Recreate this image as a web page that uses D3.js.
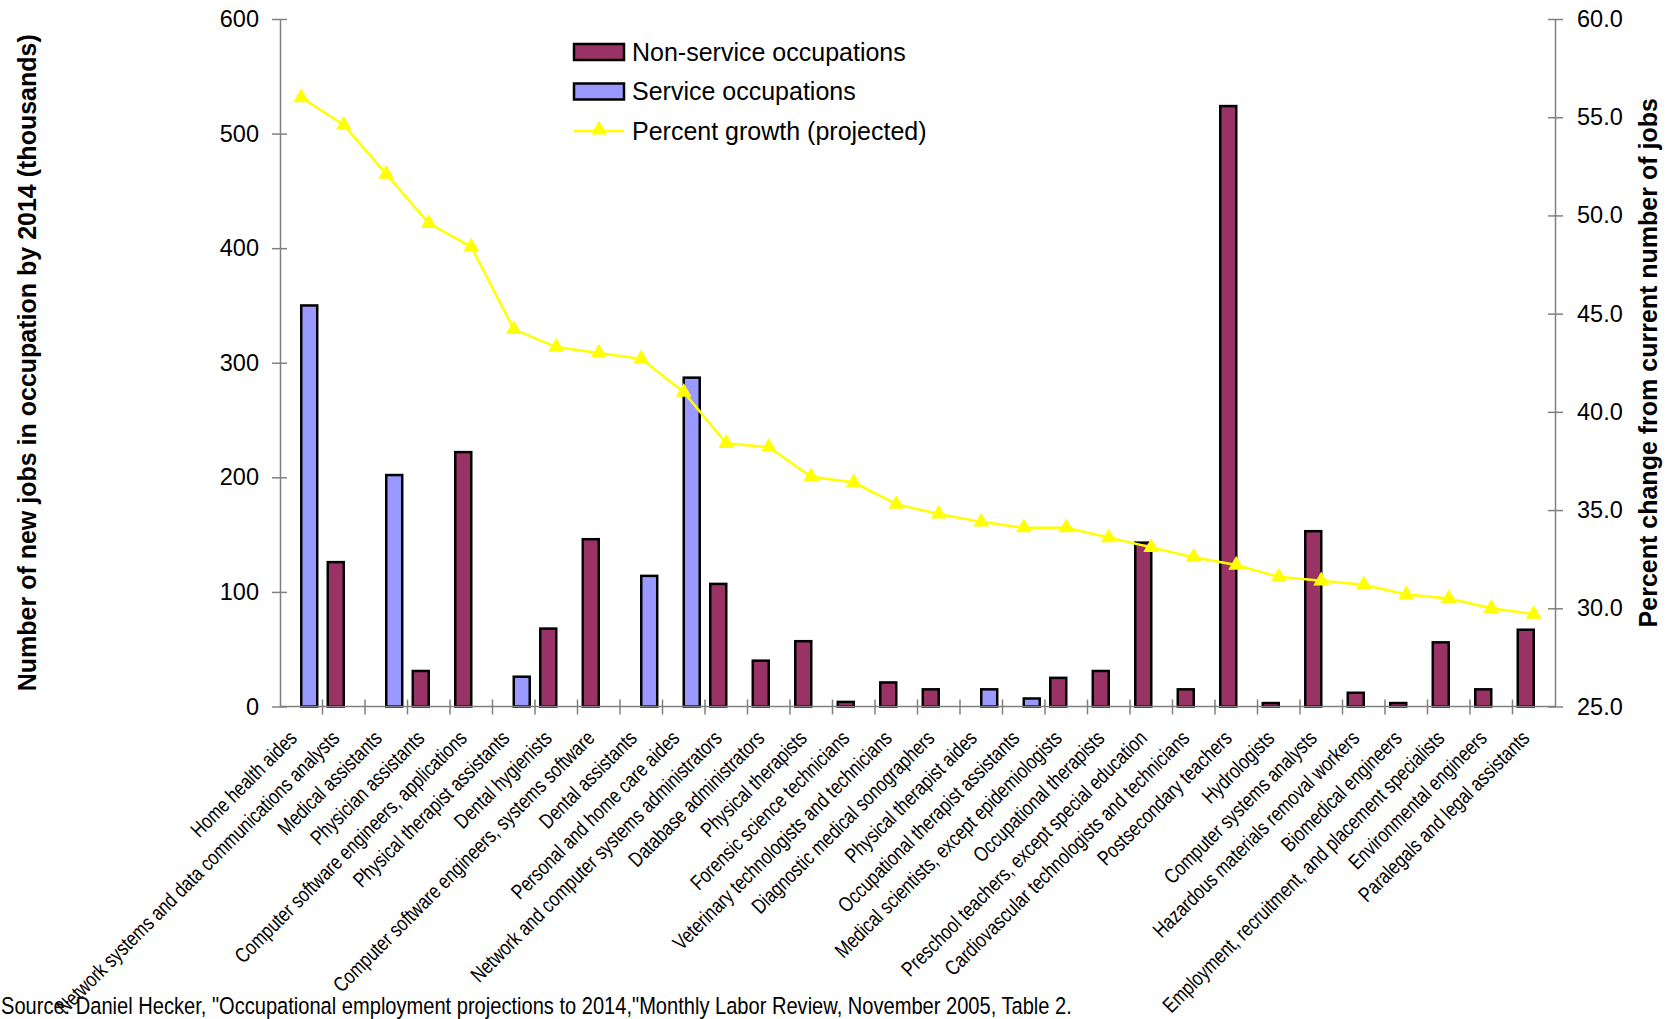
<!DOCTYPE html>
<html>
<head>
<meta charset="utf-8">
<script src="https://cdn.jsdelivr.net/npm/d3@7"></script>
<style>
body { margin: 0; background: #fff; }
text { font-family: "Liberation Sans", Arial, sans-serif; fill: #000; }
</style>
</head>
<body>
<div id="chart"></div>
<script>
// ---- data ----
var occupations = [
    "Home health aides",
    "Network systems and data communications analysts",
    "Medical assistants",
    "Physician assistants",
    "Computer software engineers, applications",
    "Physical therapist assistants",
    "Dental hygienists",
    "Computer software engineers, systems software",
    "Dental assistants",
    "Personal and home care aides",
    "Network and computer systems administrators",
    "Database administrators",
    "Physical therapists",
    "Forensic science technicians",
    "Veterinary technologists and technicians",
    "Diagnostic medical sonographers",
    "Physical therapist aides",
    "Occupational therapist assistants",
    "Medical scientists, except epidemiologists",
    "Occupational therapists",
    "Preschool teachers, except special education",
    "Cardiovascular technologists and technicians",
    "Postsecondary teachers",
    "Hydrologists",
    "Computer systems analysts",
    "Hazardous materials removal workers",
    "Biomedical engineers",
    "Employment, recruitment, and placement  specialists",
    "Environmental engineers",
    "Paralegals and legal assistants"
];

// new jobs by 2014, thousands (null = not in that group)
var nonServiceJobs = [null, 126, null, 31, 222, null, 68, 146, null, null,
    107, 40, 57, 4, 21, 15, null, null, 25, 31,
    143, 15, 524, 3, 153, 12, 3, 56, 15, 67];
var serviceJobs = [350, null, 202, null, null, 26, null, null, 114, 287,
    null, null, null, null, null, null, 15, 7, null, null,
    null, null, null, null, null, null, null, null, null, null];

// percent change from current number of jobs
var percentGrowth = [56.0, 54.6, 52.1, 49.6, 48.4, 44.2, 43.3, 43.0, 42.7, 41.0,
    38.4, 38.2, 36.7, 36.4, 35.3, 34.8, 34.4, 34.1, 34.1, 33.6,
    33.1, 32.6, 32.2, 31.6, 31.4, 31.2, 30.7, 30.5, 30.0, 29.7];

var jobTicks = [0, 100, 200, 300, 400, 500, 600];
var growthTicks = [25, 30, 35, 40, 45, 50, 55, 60];
var seriesNames = ["Non-service occupations", "Service occupations", "Percent growth (projected)"];
var seriesKeys = ["non", "svc"];
var sourceNote = "Source: Daniel Hecker, \"Occupational employment projections to 2014,\"Monthly Labor Review, November 2005, Table 2.";

// ---- layout ----
var W = 1673, H = 1019;
var margin = { top: 19, right: 118, bottom: 312.5, left: 280 },
    width = W - margin.left - margin.right,
    height = H - margin.top - margin.bottom;

var colors = { non: "#993366", svc: "#9999FF", line: "#FFFF00" };
var narrow = 0.8; // squeeze Liberation Sans to Arial Narrow width

var svg = d3.select("#chart").append("svg")
    .attr("width", W)
    .attr("height", H);

var g = svg.append("g")
    .attr("transform", "translate(" + margin.left + "," + margin.top + ")");

var x = d3.scaleBand()
    .domain(occupations)
    .range([0, width])
    .padding(0);

var x1 = d3.scaleBand()
    .domain(seriesKeys)
    .range([0, x.bandwidth()])
    .paddingInner(0)
    .paddingOuter(0.33);

var yJobs = d3.scaleLinear().domain([0, 600]).range([height, 0]);
var yPct = d3.scaleLinear().domain([25, 60]).range([height, 0]);

// bars
var bars = [];
occupations.forEach(function (name, i) {
    if (nonServiceJobs[i] != null) bars.push({ name: name, key: "non", value: nonServiceJobs[i] });
    if (serviceJobs[i] != null) bars.push({ name: name, key: "svc", value: serviceJobs[i] });
});

g.selectAll("rect.bar")
    .data(bars)
    .enter().append("rect")
    .attr("class", "bar")
    .attr("x", function (d) { return x(d.name) + x1(d.key); })
    .attr("y", function (d) { return yJobs(d.value); })
    .attr("width", x1.bandwidth())
    .attr("height", function (d) { return height - yJobs(d.value); })
    .attr("fill", function (d) { return colors[d.key]; })
    .attr("stroke", "#000")
    .attr("stroke-width", 2.5);

// axes
var axisColor = "#808080";

var leftAxis = g.append("g")
    .call(d3.axisLeft(yJobs).tickValues(jobTicks).tickSizeOuter(0).tickPadding(15));

var rightAxis = g.append("g")
    .attr("transform", "translate(" + width + ",0)")
    .call(d3.axisRight(yPct).tickValues(growthTicks).tickFormat(d3.format(".1f")).tickSizeOuter(0).tickPadding(16));

leftAxis.selectAll(".tick line").attr("x1", 7).attr("x2", -8);
rightAxis.selectAll(".tick line").attr("x1", -7).attr("x2", 8);

[leftAxis, rightAxis].forEach(function (a) {
    a.selectAll(".domain, .tick line").attr("stroke", axisColor).attr("stroke-width", 1.5);
    a.selectAll(".tick text")
        .style("font-size", "23.5px")
        .style("font-family", "'Liberation Sans', Arial, sans-serif")
        .attr("fill", "#000");
});

// x axis: line plus ticks at category boundaries
var bottomAxis = g.append("g")
    .attr("transform", "translate(0," + height + ")");

bottomAxis.append("line")
    .attr("x1", 0).attr("x2", width)
    .attr("stroke", axisColor).attr("stroke-width", 1.5);

bottomAxis.selectAll("line.tick")
    .data(occupations.slice(1))
    .enter().append("line")
    .attr("class", "tick")
    .attr("x1", function (d) { return x(d); })
    .attr("x2", function (d) { return x(d); })
    .attr("y1", -7).attr("y2", 8)
    .attr("stroke", axisColor).attr("stroke-width", 1.5);

bottomAxis.selectAll("text.label")
    .data(occupations)
    .enter().append("text")
    .attr("class", "label")
    .attr("transform", function (d) {
        return "translate(" + (x(d) + x.bandwidth() / 2 - 3) + ",33) rotate(-45) scale(" + narrow + ",1)";
    })
    .attr("text-anchor", "end")
    .style("font-size", "21px")
    .text(function (d) { return d; });

// growth line
var line = d3.line()
    .x(function (d, i) { return x(occupations[i]) + x.bandwidth() / 2; })
    .y(function (d) { return yPct(d); });

g.append("path")
    .datum(percentGrowth)
    .attr("fill", "none")
    .attr("stroke", colors.line)
    .attr("stroke-width", 2.5)
    .attr("d", line);

var tri = d3.symbol().type(d3.symbolTriangle).size(110);

g.selectAll("path.marker")
    .data(percentGrowth)
    .enter().append("path")
    .attr("class", "marker")
    .attr("transform", function (d, i) {
        return "translate(" + (x(occupations[i]) + x.bandwidth() / 2) + "," + yPct(d) + ")";
    })
    .attr("d", tri)
    .attr("fill", colors.line);

// legend
var legend = svg.append("g")
    .attr("transform", "translate(574,52)");

var legendRows = legend.selectAll("g")
    .data(seriesNames)
    .enter().append("g")
    .attr("transform", function (d, i) { return "translate(0," + (i * 39.5) + ")"; });

legendRows.each(function (d, i) {
    var row = d3.select(this);
    if (i < 2) {
        row.append("rect")
            .attr("x", 0).attr("y", -8)
            .attr("width", 50).attr("height", 16)
            .attr("fill", colors[seriesKeys[i]])
            .attr("stroke", "#000")
            .attr("stroke-width", 2.5);
    } else {
        row.append("line")
            .attr("x1", 0).attr("x2", 50)
            .attr("stroke", colors.line)
            .attr("stroke-width", 2.5);
        row.append("path")
            .attr("transform", "translate(25,-1)")
            .attr("d", tri)
            .attr("fill", colors.line);
    }
    row.append("text")
        .attr("x", 58)
        .attr("dy", "0.35em")
        .style("font-size", "25px")
        .text(d);
});

// axis titles
svg.append("text")
    .attr("transform", "translate(27," + (margin.top + height / 2) + ") rotate(-90)")
    .attr("text-anchor", "middle")
    .attr("dy", "0.35em")
    .style("font-size", "25px")
    .style("font-weight", "bold")
    .text("Number of new jobs in occupation by 2014 (thousands)");

svg.append("text")
    .attr("transform", "translate(1648," + (margin.top + height / 2) + ") rotate(-90)")
    .attr("text-anchor", "middle")
    .attr("dy", "0.35em")
    .style("font-size", "25px")
    .style("font-weight", "bold")
    .text("Percent change from current number of jobs");

// source note
svg.append("text")
    .attr("transform", "translate(1,1014) scale(0.82,1)")
    .style("font-size", "24.5px")
    .text(sourceNote);
</script>
</body>
</html>
